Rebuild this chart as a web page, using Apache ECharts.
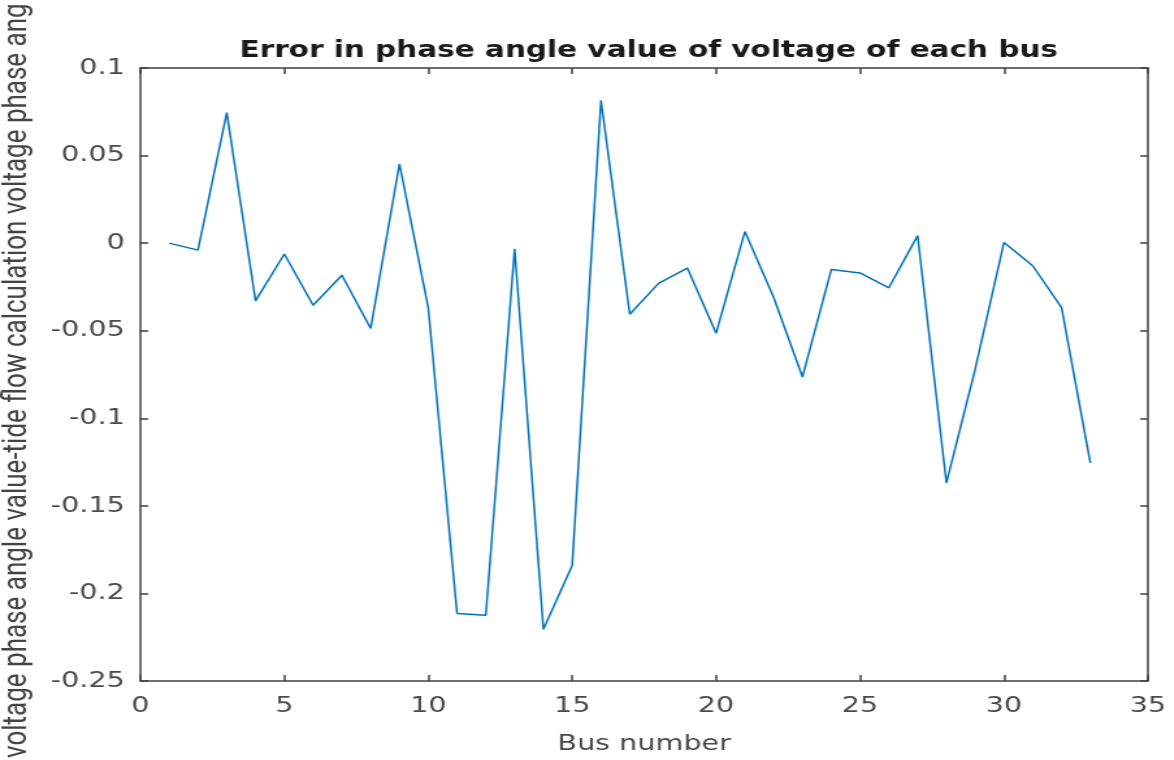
<!DOCTYPE html>
<html>
<head>
<meta charset="utf-8">
<script src="https://cdn.jsdelivr.net/npm/echarts@6/dist/echarts.min.js"></script>
<style>
html,body{margin:0;padding:0;background:#fff;overflow:hidden;}
#wrap{width:1174px;height:760px;overflow:hidden;}
#chart{width:903px;height:760px;transform:scaleX(1.3);transform-origin:0 0;}
</style>
</head>
<body>
<div id="wrap"><div id="chart"></div></div>
<script>
const titleText = 'Error in phase angle value of voltage of each bus';
const xAxisName = 'Bus number';
const yAxisName = 'voltage phase angle value-tide flow calculation voltage phase ang';
const busNumbers = [1,2,3,4,5,6,7,8,9,10,11,12,13,14,15,16,17,18,19,20,21,22,23,24,25,26,27,28,29,30,31,32,33];
const errorValues = [0, -0.004, 0.0745, -0.033, -0.0062, -0.0355, -0.0183, -0.0487, 0.0453, -0.037,
  -0.2114, -0.2124, -0.0032, -0.2205, -0.184, 0.0815, -0.0406, -0.023, -0.0142, -0.0514,
  0.0066, -0.031, -0.0764, -0.0151, -0.017, -0.0255, 0.0043, -0.1369, -0.072, 0.0004,
  -0.0129, -0.0368, -0.1255];
const xTickLabels = ['0','5','10','15','20','25','30','35'];
const yTickLabels = {'0.1':'0.1','0.05':'0.05','0':'0','-0.05':'-0.05','-0.1':'-0.1','-0.15':'-0.15','-0.2':'-0.2','-0.25':'-0.25'};

const seriesData = busNumbers.map((b, i) => [b, errorValues[i]]);
const axisColor = '#404040';
const labelColor = '#4a4a4a';
const labelFont = 'DejaVu Sans';

const chart = echarts.init(document.getElementById('chart'), null, {renderer: 'canvas'});
const axisBase = {
  axisLine: {show: true, onZero: false, lineStyle: {color: axisColor, width: 1.5}},
  axisTick: {show: true, inside: true, length: 6, lineStyle: {color: axisColor, width: 1.5}},
  splitLine: {show: false}
};
chart.setOption({
  animation: false,
  backgroundColor: '#ffffff',
  title: {
    text: titleText,
    left: 494, top: 35, textAlign: 'center',
    textStyle: {fontFamily: labelFont, fontSize: 22.7, fontWeight: 'bold', color: '#1a1a1a'}
  },
  grid: {left: 108, right: 20, top: 68, bottom: 77, containLabel: false},
  xAxis: [Object.assign({
    type: 'value', min: 0, max: 35, interval: 5, position: 'bottom',
    name: xAxisName, nameLocation: 'middle', nameGap: 52,
    nameTextStyle: {fontFamily: labelFont, fontSize: 22, color: labelColor},
    axisLabel: {margin: 14, fontFamily: labelFont, fontSize: 22, color: labelColor,
      formatter: v => xTickLabels[Math.round(v / 5)]}
  }, axisBase), Object.assign({
    type: 'value', min: 0, max: 35, interval: 5, position: 'top',
    axisLabel: {show: false}
  }, axisBase)],
  yAxis: [Object.assign({
    type: 'value', min: -0.25, max: 0.1, interval: 0.05, position: 'left',
    axisLabel: {margin: 12, fontFamily: labelFont, fontSize: 22, color: labelColor,
      formatter: v => yTickLabels[String(Math.round(v * 100) / 100)] || ''}
  }, axisBase), Object.assign({
    type: 'value', min: -0.25, max: 0.1, interval: 0.05, position: 'right',
    axisLabel: {show: false}
  }, axisBase)],
  graphic: [{
    type: 'text',
    x: 13, y: 758, rotation: Math.PI / 2,
    style: {
      text: yAxisName,
      fontFamily: 'Roboto', fontSize: 26, fill: '#444444',
      textAlign: 'left', textVerticalAlign: 'middle'
    }
  }],
  series: [{
    type: 'line', xAxisIndex: 0, yAxisIndex: 0,
    data: seriesData, showSymbol: false, symbol: 'none',
    lineStyle: {color: '#0072BD', width: 1.5},
    itemStyle: {color: '#0072BD'}
  }]
});
</script>
</body>
</html>
